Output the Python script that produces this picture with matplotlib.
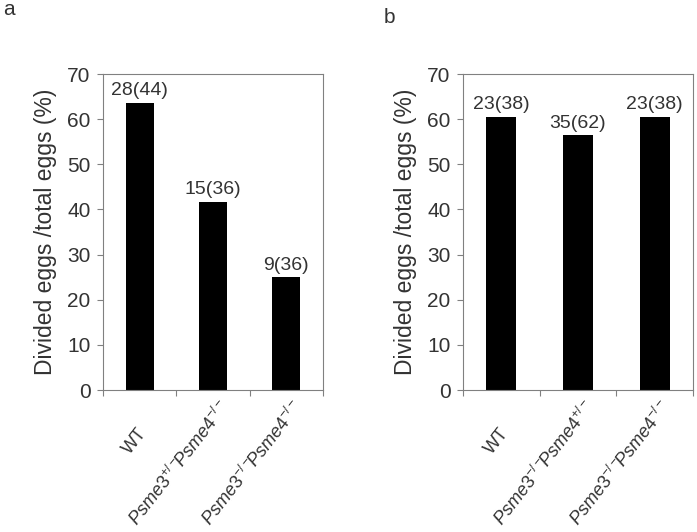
import numpy as np
import matplotlib.pyplot as plt
from matplotlib.transforms import ScaledTranslation

plt.rcParams['font.family'] = ['Liberation Sans', 'DejaVu Sans']
plt.rcParams['mathtext.fontset'] = 'custom'
plt.rcParams['mathtext.rm'] = 'Liberation Sans'
plt.rcParams['mathtext.it'] = 'Liberation Sans:italic'

# panel a
labels_a = ['WT', r'$\mathit{Psme3}^{+/-}\!\!\mathit{Psme4}^{-/-}$', r'$\mathit{Psme3}^{-/-}\!\!\mathit{Psme4}^{-/-}$']
divided_a = [28, 15, 9]
total_a = [44, 36, 36]

# panel b
labels_b = ['WT', r'$\mathit{Psme3}^{-/-}\!\!\mathit{Psme4}^{+/-}$', r'$\mathit{Psme3}^{-/-}\!\!\mathit{Psme4}^{-/-}$']
divided_b = [23, 35, 23]
total_b = [38, 62, 38]

txt = '#333333'
fig = plt.figure(figsize=(6.97, 5.32), dpi=100)
W, H = 697, 532


def panel(rect, labels, divided, total, letter, letter_xy, bar_w):
    ax = fig.add_axes(rect)
    x = np.arange(len(labels))
    pct = np.array(divided) / np.array(total) * 100
    ax.bar(x, pct, width=bar_w, color='black')
    for xi, p, d, t in zip(x, pct, divided, total):
        ax.text(xi, p + 0.8, f'{d}({t})', ha='center', va='bottom', fontsize=14, color=txt)
    ax.set_xlim(-0.5, len(labels) - 0.5)
    ax.set_ylim(0, 70)
    ax.set_yticks(range(0, 71, 10))
    ax.set_xticks(np.arange(len(labels) + 1) - 0.5)
    ax.set_xticklabels([])
    ax.tick_params(axis='both', direction='out', length=4, color='#808080',
                   labelsize=15, labelcolor=txt, pad=5)
    for s in ax.spines.values():
        s.set_color('#808080')
        s.set_linewidth(0.8)
    ax.set_ylabel('Divided eggs /total eggs (%)', fontsize=16.5, color=txt, labelpad=7)
    for i, lab in enumerate(labels):
        dy = -35 if i == 0 else -7
        dx = 11 if i == 0 else 21
        tr = ax.get_xaxis_transform() + ScaledTranslation(dx / 100, dy / 100, fig.dpi_scale_trans)
        ax.text(i, 0, lab, rotation=52, ha='right', va='top',
                transform=tr, fontsize=13, color=txt)
    fig.text(letter_xy[0] / W, 1 - letter_xy[1] / H, letter, fontsize=15, color=txt,
             ha='left', va='top')
    return ax


panel([103 / W, 1 - 390 / H, 220 / W, 316 / H], labels_a, divided_a, total_a, 'a', (3, 0), 0.38)
panel([463 / W, 1 - 390 / H, 230 / W, 316 / H], labels_b, divided_b, total_b, 'b', (384, 8), 0.39)

fig.savefig('out.png', dpi=100)
